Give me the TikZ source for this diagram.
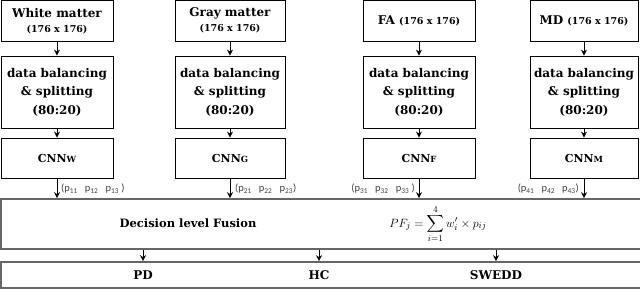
\documentclass[tikz,border=0pt]{standalone}
\usepackage{amsmath}
\usepackage{fontspec}
\setmainfont{DejaVu Serif}
\newfontfamily\plabfont{Carlito}
\usetikzlibrary{arrows.meta,calc}
\newcommand\smallcap[1]{{\fontsize{8.5}{8.5}\selectfont #1}}
\newcommand\pv[1]{p\textsubscript{#1}}
\begin{document}
\begin{tikzpicture}[x=1pt,y=-1pt,
  box/.style={draw, line width=0.8pt, inner sep=0pt, align=center,
    font=\bfseries\fontsize{12}{18.5}\selectfont},
  wide/.style={draw=black!60, line width=1.6pt, inner sep=0pt},
  txt/.style={inner sep=0pt, font=\bfseries\fontsize{12}{14}\selectfont},
  arr/.style={-{Stealth[length=6pt,width=6pt]}, line width=1pt},
  plab/.style={inner sep=0pt, text=black!75, font=\plabfont\fontsize{10.5}{11}\selectfont}]
\useasboundingbox (0,0) rectangle (640,290);

% top boxes
\node[box, minimum width=112pt, minimum height=40.5pt, font=\bfseries\fontsize{12}{15}\selectfont] (wm) at (57,20.75) {White matter\\{\fontsize{9.5}{11}\selectfont (176 x 176)}};
\node[box, minimum width=110pt, minimum height=40.5pt, font=\bfseries\fontsize{12}{15}\selectfont] (gm) at (230,20.75) {Gray matter\\{\fontsize{9.5}{11}\selectfont (176 x 176)}};
\node[box, minimum width=112pt, minimum height=40.5pt] (fa) at (419,20.75) {FA {\fontsize{9.5}{11}\selectfont (176 x 176)}};
\node[box, minimum width=108pt, minimum height=40.5pt] (md) at (584,20.75) {MD {\fontsize{9.5}{11}\selectfont (176 x 176)}};

% data balancing boxes
\node[box, minimum width=112pt, minimum height=72pt] (db1) at (57,92) {data balancing\\\& splitting\\(80:20)};
\node[box, minimum width=110pt, minimum height=72pt] (db2) at (230,92) {data balancing\\\& splitting\\(80:20)};
\node[box, minimum width=112pt, minimum height=72pt] (db3) at (419,92) {data balancing\\\& splitting\\(80:20)};
\node[box, minimum width=108pt, minimum height=72pt] (db4) at (584,92) {data balancing\\\& splitting\\(80:20)};

% CNN boxes
\node[box, minimum width=112pt, minimum height=40pt, font=\bfseries\fontsize{11}{13}\selectfont] (c1) at (57,158) {CNN\smallcap{W}};
\node[box, minimum width=110pt, minimum height=40pt, font=\bfseries\fontsize{11}{13}\selectfont] (c2) at (230,158) {CNN\smallcap{G}};
\node[box, minimum width=112pt, minimum height=40pt, font=\bfseries\fontsize{11}{13}\selectfont] (c3) at (419,158) {CNN\smallcap{F}};
\node[box, minimum width=108pt, minimum height=40pt, font=\bfseries\fontsize{11}{13}\selectfont] (c4) at (584,158) {CNN\smallcap{M}};

% fusion box
\node[wide, minimum width=680pt, minimum height=50pt] (fus) at (340.8,224) {};
\node[txt, font=\bfseries\fontsize{11.5}{14}\selectfont] (fustxt) at (188,223) {Decision level Fusion};
\node[inner sep=0pt, font=\fontsize{13}{15}\selectfont] (formula) at (438,224) {$\displaystyle PF_j=\sum_{i=1}^{4} w'_i\times p_{ij}$};

% output box
\node[wide, minimum width=680pt, minimum height=26pt] (out) at (340.8,275) {};
\node[txt] (pd) at (143,275.5) {PD};
\node[txt] (hc) at (319,275.5) {HC};
\node[txt] (sw) at (496,275.5) {SWEDD};

% arrows top -> data
\foreach \a/\b in {wm/db1, gm/db2, fa/db3, md/db4, db1/c1, db2/c2, db3/c3, db4/c4}
  \draw[arr] (\a.south) -- (\b.north);
% CNN -> fusion
\foreach \c in {c1,c2,c3,c4}
  \draw[arr] (\c.south) -- (\c.south |- fus.north);
% fusion -> output
\foreach \t in {pd,hc,sw}
  \draw[arr] (\t |- fus.south) -- (\t |- out.north);

% probability labels
\node[plab, anchor=west] (p1) at (61,189) {(\pv{11}\ \ \ \pv{12}\ \ \ \pv{13} )};
\node[plab, anchor=west] (p2) at (235,189) {(\pv{21}\ \ \ \pv{22}\ \ \ \pv{23})};
\node[plab, anchor=east] (p3) at (415,189) {(\pv{31}\ \ \ \pv{32}\ \ \ \pv{33} )};
\node[plab, anchor=east] (p4) at (579,189) {(\pv{41}\ \ \ \pv{42}\ \ \ \pv{43})};
\end{tikzpicture}
\end{document}
